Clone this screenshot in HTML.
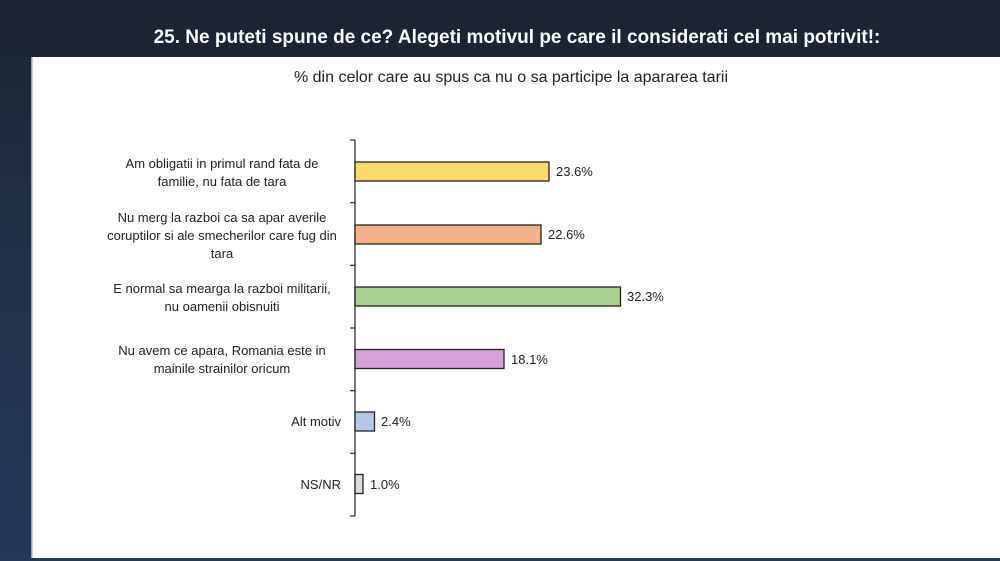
<!DOCTYPE html>
<html><head><meta charset="utf-8"><style>
html,body{margin:0;padding:0;width:1000px;height:561px;overflow:hidden;background:#1c2638;}
svg{display:block}
text{font-family:"Liberation Sans",sans-serif;}
</style></head><body>
<svg width="1000" height="561" viewBox="0 0 1000 561">
<defs><linearGradient id="bg" x1="0" y1="0" x2="0" y2="1">
<stop offset="0" stop-color="#1b2433"/><stop offset="0.5" stop-color="#22324a"/><stop offset="1" stop-color="#23385a"/></linearGradient></defs>
<rect width="1000" height="561" fill="url(#bg)"/>
<rect x="0" y="0" width="1000" height="57" fill="#1b2433"/>
<rect x="32" y="57" width="968" height="501" fill="#ffffff"/>
<rect x="31" y="57" width="1.5" height="501" fill="#9aa3ad"/>
<text x="517" y="43" fill="#fff" font-size="19" font-weight="bold" text-anchor="middle">25. Ne puteti spune de ce? Alegeti motivul pe care il considerati cel mai potrivit!:</text>
<text x="511" y="82" fill="#222" font-size="16" text-anchor="middle">% din celor care au spus ca nu o sa participe la apararea tarii</text>
<g stroke="#333" stroke-width="1.3">
<line x1="355" y1="140" x2="355" y2="516"/>
<line x1="350" y1="140" x2="355" y2="140"/>
<line x1="350" y1="202.7" x2="355" y2="202.7"/>
<line x1="350" y1="265.3" x2="355" y2="265.3"/>
<line x1="350" y1="328" x2="355" y2="328"/>
<line x1="350" y1="390.7" x2="355" y2="390.7"/>
<line x1="350" y1="453.3" x2="355" y2="453.3"/>
<line x1="350" y1="516" x2="355" y2="516"/>
</g>
<g stroke="#222" stroke-width="1.3">
<rect x="355" y="162" width="194" height="19" fill="#ffd966"/>
<rect x="355" y="225" width="186" height="19" fill="#f4b183"/>
<rect x="355" y="287" width="265.5" height="19" fill="#a9d18e"/>
<rect x="355" y="349.5" width="149" height="19" fill="#d9a0dc"/>
<rect x="355" y="412" width="19.5" height="19" fill="#b4c7e7"/>
<rect x="355" y="474.5" width="8" height="19" fill="#d9d9d9"/>
</g>
<g font-size="13" fill="#222">
<text x="556" y="176">23.6%</text>
<text x="548" y="239">22.6%</text>
<text x="627" y="301">32.3%</text>
<text x="511" y="364">18.1%</text>
<text x="381" y="426">2.4%</text>
<text x="370" y="489">1.0%</text>
</g>
<g font-size="13" fill="#222" text-anchor="middle">
<text x="222" y="168">Am obligatii in primul rand fata de</text>
<text x="222" y="186">familie, nu fata de tara</text>
<text x="222" y="222">Nu merg la razboi ca sa apar averile</text>
<text x="222" y="240">coruptilor si ale smecherilor care fug din</text>
<text x="222" y="258">tara</text>
<text x="222" y="293">E normal sa mearga la razboi militarii,</text>
<text x="222" y="311">nu oamenii obisnuiti</text>
<text x="222" y="355">Nu avem ce apara, Romania este in</text>
<text x="222" y="373">mainile strainilor oricum</text>
</g>
<g font-size="13" fill="#222" text-anchor="end">
<text x="341" y="426">Alt motiv</text>
<text x="341" y="489">NS/NR</text>
</g>
</svg>
</body></html>
